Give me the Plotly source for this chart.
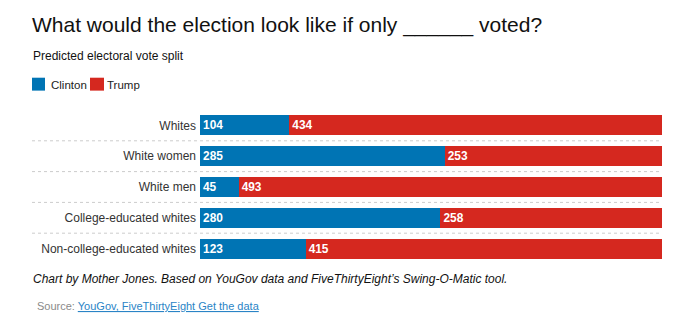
import plotly.graph_objects as go

# Predicted electoral vote split by group
groups = ["Whites", "White women", "White men", "College-educated whites",
          "Non-college-educated whites"]
clinton = [104, 285, 45, 280, 123]
trump = [434, 253, 493, 258, 415]

BLUE = "#0074b4"
RED = "#d5281f"
FONT = "Liberation Sans, Arial, Helvetica, sans-serif"

W, H = 684, 334
L, R, T, B = 200, 22, 109.5, 69.5

fig = go.Figure()
fig.add_trace(go.Bar(
    y=groups, x=clinton, orientation="h", name="Clinton",
    marker=dict(color=BLUE, line=dict(width=0)),
    text=[str(v) for v in clinton], textposition="inside",
    insidetextanchor="start", textangle=0,
    textfont=dict(color="white", size=12, family=FONT, weight="bold"),
))
fig.add_trace(go.Bar(
    y=groups, x=trump, orientation="h", name="Trump",
    marker=dict(color=RED, line=dict(width=0)),
    text=[str(v) for v in trump], textposition="inside",
    insidetextanchor="start", textangle=0,
    textfont=dict(color="white", size=12, family=FONT, weight="bold"),
))


def px_x(p):
    return (p - L) / (W - L - R)


def px_y(p):
    return (H - B - p) / (H - T - B)


# dotted separators between rows
shapes = []
for k in range(len(groups) - 1):
    shapes.append(dict(type="line", xref="paper", yref="y",
                       x0=px_x(32), x1=1, y0=k + 0.5, y1=k + 0.5,
                       line=dict(color="#cccccc", width=1, dash="dot"),
                       layer="below"))

# legend swatches
shapes.append(dict(type="rect", xref="paper", yref="paper",
                   x0=px_x(32), x1=px_x(45), y0=px_y(90), y1=px_y(77),
                   fillcolor=BLUE, line=dict(width=0)))
shapes.append(dict(type="rect", xref="paper", yref="paper",
                   x0=px_x(90), x1=px_x(104), y0=px_y(90), y1=px_y(77),
                   fillcolor=RED, line=dict(width=0)))

annotations = [
    dict(text="What would the election look like if only ______ voted?",
         x=px_x(30), y=px_y(24), font=dict(size=21, color="#111", family=FONT)),
    dict(text="Predicted electoral vote split",
         x=px_x(31), y=px_y(55), font=dict(size=12, color="#111", family=FONT)),
    dict(text="Clinton", x=px_x(49), y=px_y(84),
         font=dict(size=11.5, color="#222", family=FONT)),
    dict(text="Trump", x=px_x(105), y=px_y(84),
         font=dict(size=11.5, color="#222", family=FONT)),
    dict(text="<i>Chart by Mother Jones. Based on YouGov data and "
              "FiveThirtyEight\u2019s Swing-O-Matic tool.</i>",
         x=px_x(31), y=px_y(280), font=dict(size=12, color="#111", family=FONT)),
    dict(text="<span style='color:#8a8a8a'>Source: </span>"
              "<u>YouGov, FiveThirtyEight Get the data</u>",
         x=px_x(35), y=px_y(307), font=dict(size=11, color="#2a84c6", family=FONT)),
]
for a in annotations:
    a.update(xref="paper", yref="paper", xanchor="left", yanchor="middle",
             showarrow=False)

fig.update_layout(
    width=W, height=H,
    margin=dict(l=L, r=R, t=T, b=B, pad=0),
    barmode="stack", bargap=11 / 31,
    showlegend=False,
    plot_bgcolor="white", paper_bgcolor="white",
    font=dict(family=FONT, size=12, color="#333"),
    xaxis=dict(range=[0, 538], visible=False, fixedrange=True),
    yaxis=dict(autorange="reversed", showgrid=False, zeroline=False,
               showline=False, ticks="", ticklabelstandoff=3,
               tickfont=dict(size=12, color="#333", family=FONT)),
    shapes=shapes, annotations=annotations,
)

fig.write_html("out.html")
